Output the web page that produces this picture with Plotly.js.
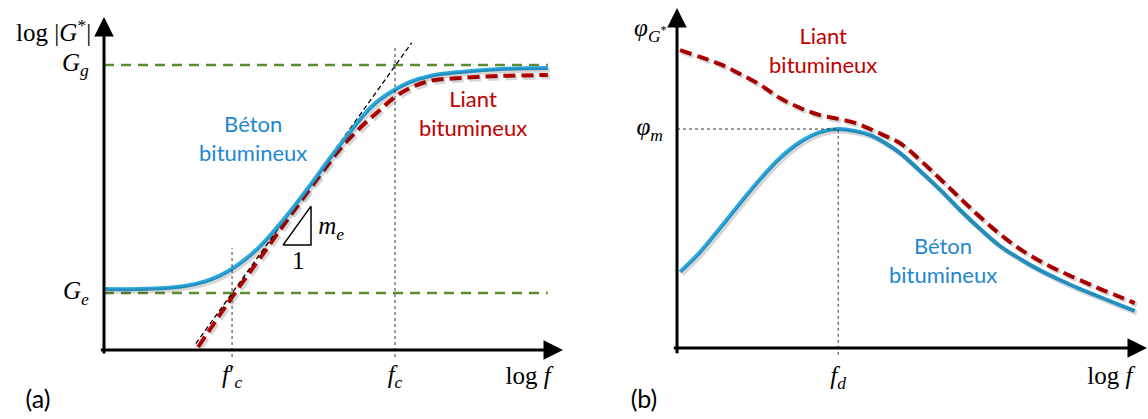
<!DOCTYPE html>
<html><head><meta charset="utf-8">
<script src="https://cdn.plot.ly/plotly-3.0.1.min.js"></script>
<style>html,body{margin:0;padding:0;background:#fff}#g{width:1148px;height:419px}</style>
</head><body><div id="g"></div>
<script>
// ---------- Panel (a): log|G*| vs log f ----------
const Gg = 8.56, Ge = 1.71;          // plateau levels
const fcPrime = 2.79, fc = 6.34;     // characteristic frequencies
const aBetonX = [0,0.78,1.33,1.76,2.20,2.53,2.81,3.18,3.46,3.83,4.05,4.49,4.92,5.36,5.58,5.90,6.34,6.67,7.10,7.76,8.63,9.67];
const aBetonY = [1.83,1.83,1.86,1.92,2.06,2.24,2.46,2.84,3.20,3.78,4.15,4.95,5.76,6.55,6.93,7.40,7.82,8.05,8.23,8.35,8.44,8.47];
const aLiantX = [2.05,2.85,3.40,4.05,4.71,5.14,5.58,6.01,6.34,6.67,7.10,7.76,8.63,9.67];
const aLiantY = [0.09,1.71,2.76,4.02,5.26,6.04,6.67,7.21,7.60,7.87,8.08,8.17,8.23,8.26];
const tangentX = [2.0, 6.7];
const tangentY = [0.19, 9.22];
const plateauX = [0, 9.67];
const triX = [3.90, 4.51, 4.51, 3.90];
const triY = [3.15, 3.15, 4.32, 3.15];

// ---------- Panel (b): phase angle vs log f ----------
const fd = 3.43, phiM = 6.44;
const bX      = [0.064,0.489,0.915,1.34,1.77,2.19,2.62,3.04,3.43,3.79,4.11,4.43,4.74,5.17,5.60,6.02,6.45,6.87,7.30,7.72,8.15,8.57,9.00,9.43,9.74];
const bBetonY = [2.24,2.82,3.53,4.26,4.97,5.59,6.06,6.35,6.44,6.38,6.26,6.03,5.74,5.21,4.65,4.06,3.50,3.00,2.62,2.29,2.00,1.74,1.50,1.26,1.09];
const bLiantY = [8.76,8.56,8.35,8.06,7.74,7.35,7.06,6.85,6.74,6.62,6.44,6.24,6.03,5.53,4.97,4.41,3.85,3.35,2.91,2.56,2.26,2.00,1.74,1.50,1.32];

// ---------- texts ----------
const aAxisTexts  = ['log |<i>G</i><sup>*</sup>|', '<i>G<sub>g</sub></i>', '<i>G<sub>e</sub></i>'];
const aTickTexts  = ['<i>f</i>′<sub><i>c</i></sub>', '<i>f<sub>c</sub></i>', 'log <i>f</i>', '<i>m<sub>e</sub></i>', '1'];
const bAxisTexts  = ['<i>φ</i><sub><i>G</i><sup>*</sup></sub>', '<i>φ<sub>m</sub></i>'];
const bTickTexts  = ['<i>f<sub>d</sub></i>', 'log <i>f</i>'];
const seriesNames = ['Béton<br>bitumineux', 'Liant<br>bitumineux'];
const panelTags   = ['(a)', '(b)'];

const BLUE = '#2aa9e0', BLUE_TXT = '#1f87d0', RED = '#c00000', GREEN = '#5b8c32';
const SERIF = 'Liberation Serif, Times New Roman, serif';
const SANS = 'Lato, Open Sans, sans-serif';
const SHADOW = 'rgba(0,0,0,0.16)';

// ---------- geometry: each panel's axes span half the figure ----------
const W = 1148, H = 419;
const PA = {ox:104, oy:350, sx:45.9, sy:33.3, d:[0, 574/W]};
const PB = {ox:677, oy:348, sx:47.0, sy:34.0, d:[574/W, 1]};
function xr(P, shift) { const s = shift || 0; return [(P.d[0]*W - P.ox - s)/P.sx, (P.d[1]*W - P.ox - s)/P.sx]; }
function yr(P, shift) { const s = shift || 0; return [(P.oy - H - s)/P.sy, (P.oy - s)/P.sy]; }
const SH = 2; // drop-shadow offset in px (right / down)

function textTrace(ax, xs, ys, texts, pos, family, size, color) {
  return {x:xs, y:ys, text:texts, xaxis:'x'+ax, yaxis:'y'+ax, mode:'text', textposition:pos,
          textfont:{family:family, size:size, color:color}};
}

const traces = [
  // drop shadows (same data on offset axes)
  {x: aBetonX, y: aBetonY, xaxis:'x3', yaxis:'y3', mode:'lines', line:{color:SHADOW, width:5, shape:'spline'}},
  {x: aLiantX, y: aLiantY, xaxis:'x3', yaxis:'y3', mode:'lines', line:{color:SHADOW, width:5, dash:'12px,6px', shape:'spline'}},
  // panel a
  {x: plateauX, y: [Gg, Gg], xaxis:'x', yaxis:'y', mode:'lines', line:{color:GREEN, width:2.6, dash:'10px,7px'}},
  {x: plateauX, y: [Ge, Ge], xaxis:'x', yaxis:'y', mode:'lines', line:{color:GREEN, width:2.6, dash:'10px,7px'}},
  {x: aLiantX, y: aLiantY, xaxis:'x', yaxis:'y', mode:'lines', line:{color:RED, width:4, dash:'12px,6px', shape:'spline'}},
  {x: tangentX, y: tangentY, xaxis:'x', yaxis:'y', mode:'lines', line:{color:'#000', width:1.3, dash:'5px,3px'}},
  {x: aBetonX, y: aBetonY, xaxis:'x', yaxis:'y', mode:'lines', line:{color:BLUE, width:4, shape:'spline'}},
  {x: triX, y: triY, xaxis:'x', yaxis:'y', mode:'lines', line:{color:'#000', width:1.5}},
  // panel b
  {x: bX, y: bBetonY, xaxis:'x4', yaxis:'y4', mode:'lines', line:{color:SHADOW, width:5, shape:'spline'}},
  {x: bX, y: bLiantY, xaxis:'x4', yaxis:'y4', mode:'lines', line:{color:SHADOW, width:5, dash:'12px,6px', shape:'spline'}},
  {x: bX, y: bBetonY, xaxis:'x2', yaxis:'y2', mode:'lines', line:{color:BLUE, width:4, shape:'spline'}},
  {x: bX, y: bLiantY, xaxis:'x2', yaxis:'y2', mode:'lines', line:{color:RED, width:4, dash:'12px,6px', shape:'spline'}},
  // text labels
  textTrace('', [-0.28, -0.33, -0.33], [9.46, Gg, Ge], aAxisTexts, 'middle left', SERIF, 25, '#000'),
  textTrace('', [fcPrime, fc, 9.24, 4.95, 4.23], [-0.81, -0.81, -0.84, 3.66, 2.62], aTickTexts, 'middle center', SERIF, 25, '#000'),
  textTrace('', [3.25], [6.28], [seriesNames[0]], 'middle center', SANS, 22, BLUE_TXT),
  textTrace('', [8.04], [7.03], [seriesNames[1]], 'middle center', SANS, 22, RED),
  textTrace('', [(38-PA.ox)/PA.sx], [(PA.oy-402)/PA.sy], [panelTags[0]], 'middle center', SANS, 25, '#000'),
  textTrace('2', [-0.22, -0.3], [9.35, phiM], bAxisTexts, 'middle left', SERIF, 25, '#000'),
  textTrace('2', [fd, 9.21], [-0.88, -0.88], bTickTexts, 'middle center', SERIF, 25, '#000'),
  textTrace('2', [3.11], [8.68], [seriesNames[1]], 'middle center', SANS, 22, RED),
  textTrace('2', [5.66], [2.50], [seriesNames[0]], 'middle center', SANS, 22, BLUE_TXT),
  textTrace('2', [(644-PB.ox)/PB.sx], [(PB.oy-402)/PB.sy], [panelTags[1]], 'middle center', SANS, 25, '#000')
];

function axisArrow(r, x0, y0, x1, y1) {
  return {xref:'x'+r, yref:'y'+r, axref:'x'+r, ayref:'y'+r, x:x1, y:y1, ax:x0, ay:y0, text:'',
          showarrow:true, arrowhead:2, arrowsize:1.3, arrowwidth:3, arrowcolor:'#000', standoff:0, startstandoff:0};
}
const annotations = [
  axisArrow('', -0.1, 0, 10, 0),
  axisArrow('', 0, -0.15, 0, 10),
  axisArrow('2', -0.1, 0, 10, 0),
  axisArrow('2', 0, -0.2, 0, 10)
];

const dot = {color:'#333', width:1, dash:'dot'};
const shapes = [
  {type:'line', xref:'x', yref:'y', x0:fcPrime, x1:fcPrime, y0:-0.21, y1:3.06, line:dot},
  {type:'line', xref:'x', yref:'y', x0:fc, x1:fc, y0:-0.21, y1:9.07, line:dot},
  {type:'line', xref:'x2', yref:'y2', x0:0, x1:fd, y0:phiM, y1:phiM, line:dot},
  {type:'line', xref:'x2', yref:'y2', x0:fd, x1:fd, y0:-0.2, y1:phiM, line:dot}
];

const hid = {visible:false, fixedrange:true};
const layout = {
  width:W, height:H, margin:{l:0, r:0, t:0, b:0},
  paper_bgcolor:'#fff', plot_bgcolor:'rgba(0,0,0,0)', showlegend:false,
  xaxis:  Object.assign({domain:PA.d, range:xr(PA)}, hid),
  yaxis:  Object.assign({domain:[0,1], range:yr(PA)}, hid),
  xaxis2: Object.assign({domain:PB.d, range:xr(PB)}, hid),
  yaxis2: Object.assign({domain:[0,1], range:yr(PB)}, hid),
  xaxis3: Object.assign({domain:PA.d, range:xr(PA, SH)}, hid),
  yaxis3: Object.assign({domain:[0,1], range:yr(PA, -SH)}, hid),
  xaxis4: Object.assign({domain:PB.d, range:xr(PB, SH)}, hid),
  yaxis4: Object.assign({domain:[0,1], range:yr(PB, -SH)}, hid),
  annotations: annotations, shapes: shapes
};
traces.forEach(t => { t.hoverinfo = 'skip'; t.cliponaxis = false; });
Plotly.newPlot('g', traces, layout, {staticPlot:true, displayModeBar:false});
</script></body></html>
